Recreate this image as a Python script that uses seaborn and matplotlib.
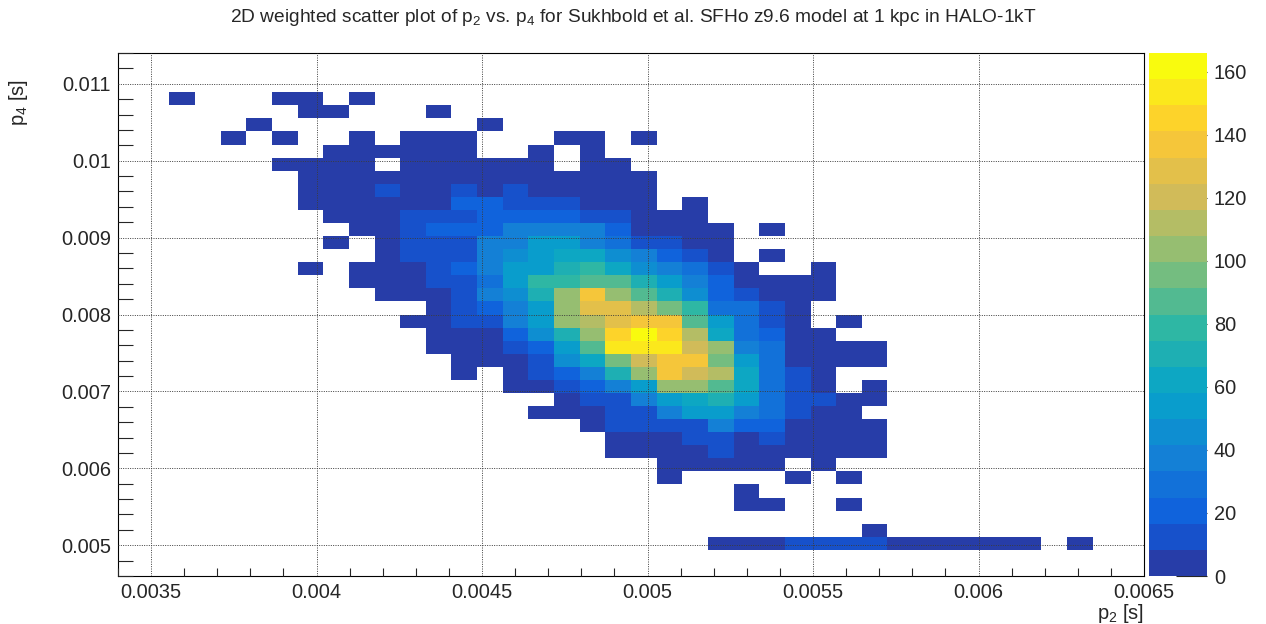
import numpy as np
import pandas as pd
import matplotlib
matplotlib.use("Agg")
import matplotlib.pyplot as plt
from matplotlib.colors import LinearSegmentedColormap, ListedColormap
from matplotlib.ticker import MultipleLocator, FuncFormatter
import seaborn as sns

# ---------------------------------------------------------------- data
# 40 x 40 binning of the (p2, p4) plane
P2_RANGE = (0.0034, 0.0065)
P4_RANGE = (0.0046, 0.0114)
N_BINS = 40

# weighted bin contents; each row is one p4 bin (counted from the top edge),
# its list starts at p2 bin `row_first_bin`
row_index = [3, 4, 5, 6, 7, 8, 9, 10, 11, 12, 13, 14, 15, 16, 17, 18, 19, 20,
             21, 22, 23, 24, 25, 26, 27, 28, 29, 30, 31, 32, 33, 34, 36, 37]
row_first_bin = [2, 7, 5, 4, 8, 6, 7, 7, 7, 8, 9, 8, 10, 7, 9, 10, 12, 11,
                 12, 12, 13, 13, 15, 17, 16, 18, 19, 19, 21, 21, 24, 24, 29, 23]
row_counts = [
    [4, 0, 0, 0, 4, 4, 0, 4],
    [4, 4, 0, 0, 0, 4],
    [4, 0, 0, 0, 0, 0, 0, 0, 0, 4],
    [4, 0, 4, 0, 0, 4, 0, 4, 4, 4, 0, 0, 0, 4, 4, 0, 4],
    [4, 4, 4, 4, 4, 4, 0, 0, 4, 0, 4],
    [4, 4, 4, 4, 0, 4, 4, 4, 4, 4, 4, 0, 4, 4],
    [4, 4, 4, 4, 4, 4, 4, 4, 4, 4, 4, 4, 4, 4],
    [4, 4, 4, 12, 4, 4, 12, 4, 12, 4, 4, 4, 4, 4],
    [4, 4, 4, 4, 4, 4, 21, 21, 12, 12, 12, 4, 4, 4, 0, 4],
    [4, 4, 4, 12, 12, 12, 21, 21, 21, 21, 12, 12, 4, 4, 4],
    [4, 4, 12, 21, 21, 21, 37, 37, 37, 37, 21, 4, 4, 4, 4, 0, 4],
    [4, 0, 4, 12, 12, 12, 37, 37, 54, 54, 37, 29, 12, 12, 4, 4],
    [4, 12, 12, 12, 37, 46, 54, 62, 62, 46, 37, 21, 12, 4, 0, 4],
    [4, 0, 4, 4, 4, 12, 21, 37, 54, 54, 71, 79, 62, 46, 37, 29, 12, 4, 0, 0, 4],
    [4, 4, 4, 12, 12, 29, 54, 79, 79, 87, 87, 71, 54, 37, 21, 4, 4, 4, 4],
    [4, 4, 4, 12, 37, 46, 71, 104, 137, 104, 87, 71, 46, 21, 12, 4, 4, 4],
    [4, 12, 21, 37, 54, 104, 129, 129, 112, 95, 79, 29, 29, 12, 4],
    [4, 4, 12, 12, 37, 54, 104, 112, 129, 137, 137, 87, 54, 29, 12, 4, 0, 4],
    [4, 4, 4, 21, 46, 71, 104, 145, 166, 145, 112, 62, 29, 21, 4, 4],
    [4, 4, 4, 12, 21, 54, 87, 154, 154, 154, 120, 104, 37, 29, 4, 4, 4, 4],
    [4, 4, 4, 12, 46, 62, 95, 120, 137, 137, 95, 54, 29, 4, 4, 4, 4],
    [4, 0, 4, 12, 21, 37, 71, 104, 137, 120, 112, 62, 29, 12, 4],
    [4, 4, 12, 21, 37, 54, 104, 104, 87, 62, 29, 12, 4, 0, 4],
    [4, 12, 12, 37, 54, 62, 71, 54, 29, 12, 12, 4, 4],
    [4, 4, 4, 12, 12, 37, 54, 54, 37, 29, 12, 4, 4],
    [4, 12, 12, 12, 12, 37, 21, 21, 4, 4, 4, 4],
    [4, 4, 4, 12, 12, 4, 12, 4, 4, 4, 4],
    [4, 4, 4, 4, 12, 4, 4, 4, 4, 4, 4],
    [4, 4, 4, 4, 4, 0, 4],
    [4, 0, 0, 0, 0, 4, 0, 4],
    [4],
    [4, 4, 0, 0, 4],
    [4],
    [4, 4, 4, 12, 12, 12, 12, 4, 4, 4, 4, 4, 4, 0, 4],
]

TITLE = ("2D weighted scatter plot of p$_2$ vs. p$_4$ for Sukhbold et al. "
         "SFHo z9.6 model at 1 kpc in HALO-1kT")

# ---------------------------------------------------------------- table
dx = (P2_RANGE[1] - P2_RANGE[0]) / N_BINS
dy = (P4_RANGE[1] - P4_RANGE[0]) / N_BINS
records = []
for r, c0, counts in zip(row_index, row_first_bin, row_counts):
    for k, w in enumerate(counts):
        if w > 0:
            records.append({
                "p2": P2_RANGE[0] + (c0 + k + 0.5) * dx,
                "p4": P4_RANGE[1] - (r + 0.5) * dy,
                "w": w,
            })
df = pd.DataFrame(records)

# ---------------------------------------------------------------- palette
# ROOT "bird" palette, 20 contour levels
stops = [0.0, 0.125, 0.25, 0.375, 0.5, 0.625, 0.75, 0.875, 1.0]
red = [0.2082, 0.0592, 0.0780, 0.0232, 0.1802, 0.5301, 0.8186, 0.9956, 0.9764]
green = [0.1664, 0.3599, 0.5041, 0.6419, 0.7178, 0.7492, 0.7328, 0.7862, 0.9832]
blue = [0.5293, 0.8684, 0.8385, 0.7914, 0.6425, 0.4662, 0.3499, 0.1968, 0.0539]
bird = LinearSegmentedColormap.from_list(
    "bird", list(zip(stops, zip(red, green, blue))), N=255)
n_levels = 20
level_pos = [int((i + 0.99) * 255 / n_levels) / 254 for i in range(n_levels)]
bird20 = ListedColormap([bird(p) for p in level_pos], name="bird20")

# ---------------------------------------------------------------- style
sns.set_style("white")
plt.rcParams["font.family"] = ["Liberation Sans", "DejaVu Sans"]
plt.rcParams["mathtext.fontset"] = "custom"
plt.rcParams["mathtext.rm"] = "Liberation Sans"
plt.rcParams["mathtext.it"] = "Liberation Sans:italic"
plt.rcParams["mathtext.default"] = "regular"

W, H = 1266, 624
fig = plt.figure(figsize=(W / 100, H / 100), dpi=100)
ax = fig.add_axes([118 / W, 1 - 576 / H, 1026 / W, 523 / H])
cax = fig.add_axes([1149 / W, 1 - 576 / H, 58 / W, 523 / H])

sns.histplot(data=df, x="p2", y="p4", weights="w", bins=N_BINS,
             binrange=(P2_RANGE, P4_RANGE), cmap=bird20,
             cbar=True, cbar_ax=cax, ax=ax)

ax.set_xlim(*P2_RANGE)
ax.set_ylim(*P4_RANGE)


def root_fmt(v, _pos):
    s = f"{v:.4f}".rstrip("0").rstrip(".")
    return s


ax.xaxis.set_major_locator(MultipleLocator(0.0005))
ax.xaxis.set_minor_locator(MultipleLocator(0.0001))
ax.yaxis.set_major_locator(MultipleLocator(0.001))
ax.yaxis.set_minor_locator(MultipleLocator(0.0002))
ax.xaxis.set_major_formatter(FuncFormatter(root_fmt))
ax.yaxis.set_major_formatter(FuncFormatter(root_fmt))

ax.tick_params(axis="x", which="major", direction="in", length=11.5,
               width=0.8, labelsize=14.4, pad=5, top=False)
ax.tick_params(axis="x", which="minor", direction="in", length=6,
               width=0.8, top=False, bottom=True)
ax.tick_params(axis="y", which="major", direction="in", length=22,
               width=0.8, labelsize=14.4, pad=5, right=False)
ax.tick_params(axis="y", which="minor", direction="in", length=11,
               width=0.8, right=False, left=True)

ax.set_axisbelow(False)
ax.grid(True, which="major", color="#3c3c3c", linestyle=(0, (1, 1.4)),
        linewidth=0.7)
for s in ax.spines.values():
    s.set_color("black")
    s.set_linewidth(0.8)

ax.set_xlabel("p$_2$ [s]", fontsize=14.4, loc="right")
ax.xaxis.set_label_coords(1.0, -0.05)
ax.set_ylabel("p$_4$ [s]", fontsize=14.4, loc="top")
ax.yaxis.set_label_coords(-0.086, 0.95)

# palette axis
cb = ax.collections[0].colorbar
cb.outline.set_visible(False)
cax.yaxis.set_major_locator(MultipleLocator(20))
cax.yaxis.set_minor_locator(plt.NullLocator())
cax.tick_params(axis="y", which="major", direction="in", length=22,
                width=0.8, labelsize=14.4, pad=5, right=True, left=False,
                labelright=True, labelleft=False)

fig.text(0.5, 1 - 18 / H, TITLE, ha="center", va="center", fontsize=13.8)

fig.savefig("out.png", dpi=100)
